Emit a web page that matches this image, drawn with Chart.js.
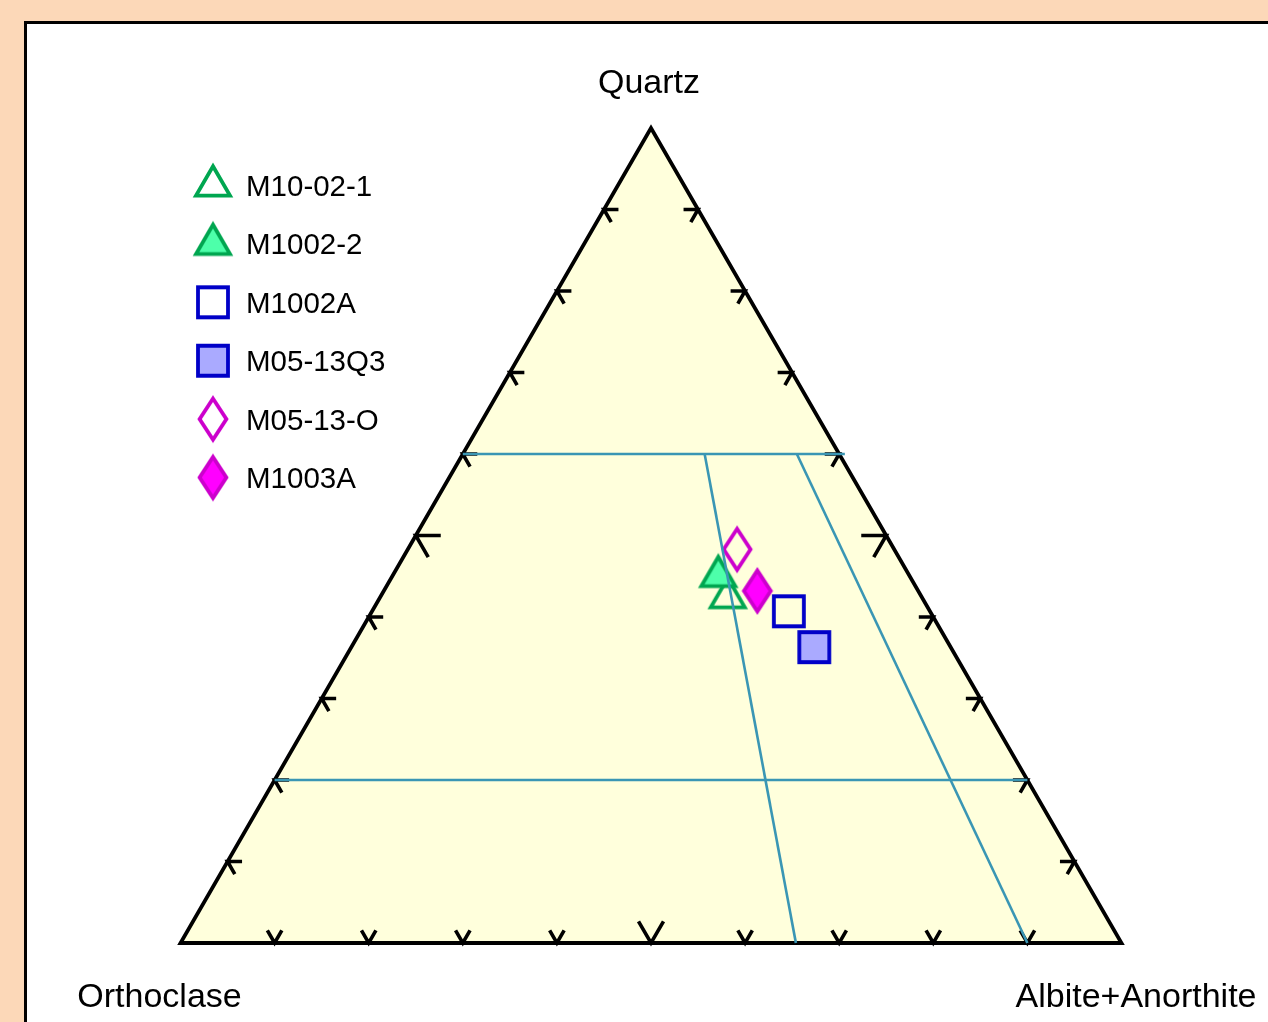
<!DOCTYPE html>
<html>
<head>
<meta charset="utf-8">
<title>QAP ternary diagram</title>
<script src="https://cdn.jsdelivr.net/npm/chart.js@4.4.1/dist/chart.umd.min.js"></script>
<style>
  html, body { margin: 0; padding: 0; width: 1268px; height: 1022px; overflow: hidden; background: #FCD8B8; }
  #frame { position: absolute; left: 24px; top: 21px; width: 1300px; height: 1100px; background: #ffffff;
           border-left: 3px solid #000; border-top: 3px solid #000; }
  #c { position: absolute; left: 0; top: 0; }
</style>
</head>
<body>
<div id="frame"></div>
<canvas id="c" width="1268" height="1022"></canvas>
<script>
// Apex names: top, bottom-left, bottom-right
const axisNames = ['Quartz', 'Orthoclase', 'Albite+Anorthite'];

// Samples (percent of Quartz, Orthoclase, Albite+Anorthite)
const sampleNames = ['M10-02-1', 'M1002-2', 'M1002A', 'M05-13Q3', 'M05-13-O', 'M1003A'];
const quartz      = [43.1, 45.7, 40.7, 36.3, 48.3, 43.2];
const orthoclase  = [20.3, 20.0, 15.0, 14.5, 16.7, 17.1];
const plagioclase = [36.6, 34.3, 44.3, 49.2, 35.0, 39.7];

// Tick marks along every side (percent)
const tickPercents = [10, 20, 30, 40, 50, 60, 70, 80, 90];
const majorTick = 50;

// Field boundaries, each from [Q, A, P] to [Q, A, P]
const fieldLines = [
  [[60, 40, 0], [60, -0.6, 40.6]],
  [[20, 80, 0], [20, 0, 80]],
  [[60, 14.3, 25.7], [0, 34.6, 65.4]],
  [[60, 4.5, 35.5], [0, 10, 90]]
];

const H = Math.sqrt(3) / 2;
// ternary (Q, A, P in percent) -> cartesian data coordinates
function toXY(q, a, p) {
  const s = q + a + p;
  return { x: (p + q / 2) / s, y: (q / s) * H };
}

// marker images
function makeMarker(shape, stroke, fill) {
  const c = document.createElement('canvas');
  c.width = 50; c.height = 56;
  const g = c.getContext('2d');
  const cx = c.width / 2, cy = c.height / 2;
  g.lineWidth = 3.8;
  g.lineJoin = 'miter';
  g.miterLimit = 10;
  g.strokeStyle = stroke;
  g.beginPath();
  if (shape === 'triangle') {
    const s = 34, h = s * H;
    const top = cy - (h + 5.7) / 2 + 3.8;
    g.moveTo(cx, top);
    g.lineTo(cx + s / 2, top + h);
    g.lineTo(cx - s / 2, top + h);
    g.closePath();
  } else if (shape === 'square') {
    g.rect(cx - 15, cy - 15, 30, 30);
  } else {
    g.moveTo(cx, cy - 20.5);
    g.lineTo(cx + 13.4, cy);
    g.lineTo(cx, cy + 20.5);
    g.lineTo(cx - 13.4, cy);
    g.closePath();
  }
  if (fill) { g.fillStyle = fill; g.fill(); }
  g.stroke();
  return c;
}

const markerShapes = ['triangle', 'triangle', 'square', 'square', 'diamond', 'diamond'];
const markerStroke = ['#00A650', '#00A650', '#0000C8', '#0000C8', '#CC00CC', '#CC00CC'];
const markerFill   = [null, '#4DFFAA', null, '#AAAAFF', null, '#FF00FF'];
const markers = sampleNames.map((_, i) => makeMarker(markerShapes[i], markerStroke[i], markerFill[i]));

// outline of the triangle, starting mid-way along the base so every corner is mitred
const outline = [toXY(0, 50, 50), toXY(0, 0, 100), toXY(100, 0, 0), toXY(0, 100, 0), toXY(0, 50, 50)];

// tick marks: two short arms from each side point, parallel to the other two sides
function tickData() {
  const pts = [];
  const gap = { x: null, y: null };
  tickPercents.forEach(t => {
    const len = (t === majorTick ? 25 : 14.5) / 941;
    // base (Quartz = 0)
    let b = toXY(0, 100 - t, t);
    pts.push({ x: b.x - 0.5 * len, y: b.y + H * len }, b, { x: b.x + 0.5 * len, y: b.y + H * len }, gap);
    // left side (Albite+Anorthite = 0)
    b = toXY(t, 100 - t, 0);
    pts.push({ x: b.x + len, y: b.y }, b, { x: b.x + 0.5 * len, y: b.y - H * len }, gap);
    // right side (Orthoclase = 0)
    b = toXY(t, 0, 100 - t);
    pts.push({ x: b.x - len, y: b.y }, b, { x: b.x - 0.5 * len, y: b.y - H * len }, gap);
  });
  return pts;
}

const datasets = [];

datasets.push({
  label: 'frame',
  data: outline,
  showLine: true,
  fill: 'shape',
  backgroundColor: '#FFFFDC',
  borderColor: '#000000',
  borderWidth: 3.8,
  borderJoinStyle: 'miter',
  pointRadius: 0,
  clip: false,
  order: 100
});

datasets.push({
  label: 'ticks',
  data: tickData(),
  showLine: true,
  spanGaps: false,
  fill: false,
  borderColor: '#000000',
  borderWidth: 3.6,
  borderJoinStyle: 'miter',
  pointRadius: 0,
  clip: false,
  order: 90
});

sampleNames.forEach((name, i) => {
  datasets.push({
    label: name,
    data: [toXY(quartz[i], orthoclase[i], plagioclase[i])],
    pointStyle: markers[i],
    pointRadius: 10,
    showLine: false,
    clip: false,
    order: i === 1 ? 40 : 50
  });
});

fieldLines.forEach((ln, i) => {
  datasets.push({
    label: 'field ' + i,
    data: ln.map(v => toXY(v[0], v[1], v[2])),
    showLine: true,
    fill: false,
    borderColor: '#3A96B4',
    borderWidth: 2.6,
    pointRadius: 0,
    clip: false,
    order: 10
  });
});

// apex names and sample key
const annotations = {
  id: 'ternaryText',
  afterDraw(chart) {
    const ctx = chart.ctx;
    const xs = chart.scales.x, ys = chart.scales.y;
    const top = { x: xs.getPixelForValue(0.5), y: ys.getPixelForValue(H) };
    const left = { x: xs.getPixelForValue(0), y: ys.getPixelForValue(0) };
    const right = { x: xs.getPixelForValue(1), y: ys.getPixelForValue(0) };
    ctx.save();
    ctx.fillStyle = '#000';
    ctx.textBaseline = 'alphabetic';
    ctx.textAlign = 'center';
    ctx.font = '34px "Liberation Sans", Arial, sans-serif';
    ctx.fillText(axisNames[0], top.x - 2, top.y - 35);
    ctx.fillText(axisNames[1], left.x - 21, left.y + 64);
    ctx.fillText(axisNames[2], right.x + 14.5, right.y + 64);

    ctx.textAlign = 'left';
    ctx.font = '29.5px "Liberation Sans", Arial, sans-serif';
    sampleNames.forEach((name, i) => {
      const rowY = 185.5 + i * 58.4;
      const img = markers[i];
      const dy = markerShapes[i] === 'triangle' ? -5.5 : 0;
      ctx.drawImage(img, 213 - img.width / 2, rowY + dy - img.height / 2);
      ctx.fillText(name, 246, rowY + 10.5);
    });
    ctx.restore();
  }
};

new Chart(document.getElementById('c'), {
  type: 'scatter',
  data: { datasets },
  options: {
    responsive: false,
    devicePixelRatio: 1,
    animation: false,
    events: [],
    layout: { padding: { left: 180.5, right: 146.5, top: 128, bottom: 79 } },
    scales: {
      x: { type: 'linear', min: 0, max: 1, display: false },
      y: { type: 'linear', min: 0, max: H, display: false }
    },
    plugins: {
      legend: { display: false },
      tooltip: { enabled: false }
    }
  },
  plugins: [annotations]
});
</script>
</body>
</html>
